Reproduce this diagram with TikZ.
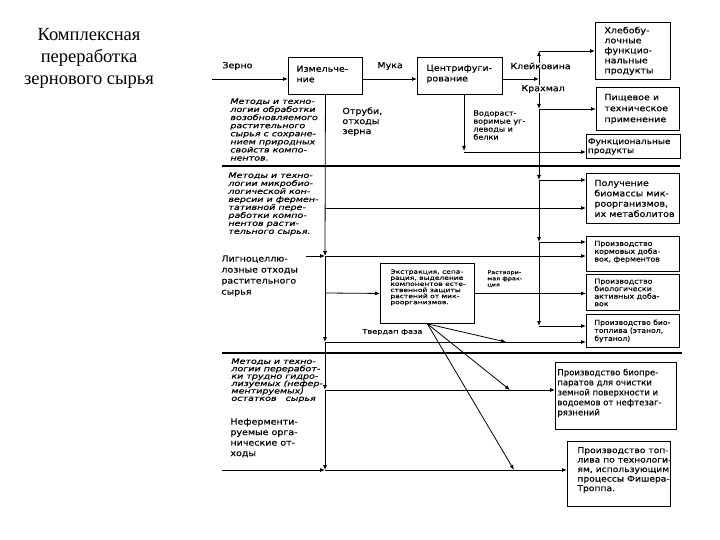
\documentclass[tikz,border=0pt]{standalone}
\usepackage{fontspec}
\setmainfont{Liberation Serif}
\newfontfamily\dv[FakeStretch=1.12,FakeBold=0.25]{DejaVu Sans}
\newfontfamily\dvn[FakeBold=0.25]{DejaVu Sans}
\newfontfamily\dvw[FakeStretch=1.3,FakeBold=0.25]{DejaVu Sans}
\newfontfamily\dvi[FakeStretch=1.27,FakeBold=0.35]{DejaVu Sans}
\usetikzlibrary{arrows.meta}
\newcommand\fsz[2]{\fontsize{#1}{#2}\selectfont}
\begin{document}
\begin{tikzpicture}[x=1pt,y=-1pt,line width=0.8pt,
  arr/.style={-{Latex[length=5pt,width=4pt]}},
  box/.style={draw,line width=0.9pt,anchor=north west,inner sep=0pt},
  txt/.style={anchor=west,align=left,inner sep=0pt},
  ttl/.style={anchor=north west,align=left,inner sep=0pt},
  sepline/.style={line width=1.1pt}]
\useasboundingbox (0,0) rectangle (720,540);

% title
\node[align=center,inner sep=0pt,font=\fsz{18.5}{22}] (title) at (89,58)
  {Комплексная\\переработка\\зернового сырья};

% coordinates
\coordinate (zs) at (212,79);
\coordinate (j1) at (539,79);
\coordinate (t0) at (539,51);
\coordinate (t1) at (539,109);
\coordinate (t2) at (539,180);
\coordinate (t3) at (539,242);
\coordinate (t4) at (539,326);
\coordinate (c1) at (464,152);
\coordinate (b1) at (325,208);
\coordinate (v1) at (325,256);
\coordinate (b2) at (325,293);
\coordinate (v2) at (325,342);
\coordinate (v3) at (325,390);
\coordinate (v4) at (325,470);
\coordinate (lg) at (306,256);
\coordinate (nf) at (222,470);
\coordinate (f1) at (506,342);
\coordinate (f2) at (510,390);
\coordinate (f3) at (514,470);
\coordinate (s1a) at (222,166);
\coordinate (s1b) at (680,166);
\coordinate (s2a) at (222,353);
\coordinate (s2b) at (682,353);

% boxes
\node[box,minimum width=74pt,minimum height=37pt] (izm) at (288,57) {};
\node[box,minimum width=85pt,minimum height=37pt] (centr) at (417,57) {};
\node[box,minimum width=75pt,minimum height=57pt] (hleb) at (595,22) {};
\node[box,minimum width=83pt,minimum height=43pt] (pish) at (596,87) {};
\node[box,minimum width=94pt,minimum height=24pt] (func) at (586,134) {};
\node[box,minimum width=93pt,minimum height=50pt] (poluch) at (586,173) {};
\node[box,minimum width=93pt,minimum height=35pt] (korm) at (586,236) {};
\node[box,minimum width=93pt,minimum height=36pt] (bio) at (586,274) {};
\node[box,minimum width=93pt,minimum height=33pt] (biotop) at (586,314) {};
\node[box,minimum width=94pt,minimum height=60pt] (extr) at (380,263) {};
\node[box,minimum width=121pt,minimum height=67pt] (biopr) at (555,362) {};
\node[box,minimum width=103pt,minimum height=65pt] (topl) at (567,441) {};

% separators
\draw[sepline] (s1a) -- (s1b);
\draw[sepline] (s2a) -- (s2b);

% top row
\draw[arr] (zs) -- (zs -| izm.west);
\draw[arr] (zs -| izm.east) -- (zs -| centr.west);
\draw[arr] (zs -| centr.east) -- (j1);

% trunk 539
\draw[arr] (j1) -- (t0);
\draw[arr] (j1) -- (t1);
\draw[arr] (t1) -- (t2);
\draw[arr] (t2) -- (t3);
\draw[arr] (t3) -- (t4);
\draw[arr] (t0) -- (t0 -| hleb.west);
\draw[arr] (t1) -- (t1 -| pish.west);
\draw[arr] (t2) -- (t2 -| poluch.west);
\draw[arr] (t3) -- (t3 -| korm.west);
\draw[arr] (t4) -- (t4 -| biotop.west);

% centrifuge down
\draw[arr] (centr.south -| c1) -- ([yshift=1pt]c1);
\draw[arr] (c1) -- (c1 -| func.west);

% trunk 325
\draw[arr] (izm.south) -- (v1);
\draw[arr] (v1) -- (v2);
\draw[arr] (v2) -- (v3);
\draw[arr] (v3) -- (v4);
\draw[arr] (lg) -- (v1);
\draw[arr] (nf) -- (v4);
\draw[arr] (b1) -- (b1 -| poluch.west);
\draw[arr] (v1) -- (v1 -| korm.west);
\draw[arr] (b2) -- (extr.west);
\draw[arr] (extr.east) -- (extr.east -| bio.west);
\draw[arr] (v2) -- (v2 -| biotop.west);
\draw[arr] (v3) -- (v3 -| biopr.west);
\draw[arr] (v4) -- (v4 -| topl.west);

% fan from extraction
\draw[arr] (extr.south) -- (f1);
\draw[arr] (extr.south) -- (f2);
\draw[arr] (extr.south) -- (f3);

% box texts
\node[txt,font=\dv\fsz{8.5}{10.5}] (izmT) at ([xshift=8pt,yshift=2pt]izm.west) {Измельче-\\ние};
\node[txt,font=\dv\fsz{8.5}{10.5}] (centrT) at ([xshift=9pt,yshift=2pt]centr.west) {Центрифуги-\\рование};
\node[txt,font=\dv\fsz{8.5}{10}] (hlebT) at ([xshift=9pt]hleb.west) {Хлебобу-\\лочные\\функцио-\\нальные\\продукты};
\node[txt,font=\dv\fsz{8.5}{11}] (pishT) at ([xshift=8pt]pish.west) {Пищевое и\\техническое\\применение};
\node[txt,font=\dv\fsz{8}{9}] (funcT) at ([xshift=1.5pt]func.west) {Функциональные\\продукты};
\node[txt,font=\dv\fsz{8.5}{10.3}] (poluchT) at ([xshift=8pt]poluch.west) {Получение\\биомассы мик-\\роорганизмов,\\их метаболитов};
\node[txt,font=\dv\fsz{7}{7.8}] (kormT) at ([xshift=8pt,yshift=2pt]korm.west) {Производство\\кормовых доба-\\вок, ферментов};
\node[txt,font=\dv\fsz{7}{7.5}] (bioT) at ([xshift=8pt]bio.west) {Производство\\биологически\\активных доба-\\вок};
\node[txt,font=\dv\fsz{6.8}{8}] (biotopT) at ([xshift=8pt]biotop.west) {Производство био-\\топлива (этанол,\\бутанол)};
\node[ttl,font=\dvw\fsz{5.8}{6.1}] (extrT) at ([xshift=10pt,yshift=-6pt]extr.north west) {Экстракция, сепа-\\рация, выделение\\компонентов есте-\\ственной защиты\\растений от мик-\\роорганизмов.};
\node[txt,font=\dvn\fsz{8.5}{10}] (bioprT) at ([xshift=2pt,yshift=3pt]biopr.west) {Производство биопре-\\паратов для очистки\\земной поверхности и\\водоемов от нефтезаг-\\рязнений};
\node[txt,font=\dv\fsz{8.2}{9.5}] (toplT) at ([xshift=10pt,yshift=4pt]topl.west) {Производство топ-\\лива по технологи-\\ям, использующим\\процессы Фишера-\\Троппа.};

% free labels
\node[txt,font=\dv\fsz{8.5}{10}] (zerno) at (222,66) {Зерно};
\node[txt,font=\dv\fsz{8.5}{10}] (muka) at (377,66) {Мука};
\node[txt,font=\dv\fsz{8.5}{10},fill=white] (klei) at (510,66) {Клейковина};
\node[txt,font=\dv\fsz{8.5}{10},fill=white] (krahm) at (521,89) {Крахмал};
\node[ttl,font=\dv\fsz{8.5}{10}] (otrubi) at (342,107) {Отруби,\\отходы\\зерна};
\node[ttl,font=\dv\fsz{7.2}{8}] (vodor) at (473,110) {Водораст-\\воримые уг-\\леводы и\\белки};
\node[ttl,font=\dvi\itshape\fsz{7.5}{8.1}] (m1) at (230,98) {Методы и техно-\\логии обработки\\возобновляемого\\растительного\\сырья с сохране-\\нием природных\\свойств компо-\\нентов.};
\node[ttl,font=\dvi\itshape\fsz{7.5}{8}] (m2) at (228,172) {Методы и техно-\\логии микробио-\\логической кон-\\версии и фермен-\\тативной пере-\\работки компо-\\нентов расти-\\тельного сырья.};
\node[ttl,font=\dvi\itshape\fsz{7.5}{7.4}] (m3) at (231,358) {Методы и техно-\\логии переработ-\\ки трудно гидро-\\лизуемых (нефер-\\ментируемых)\\остатков\hspace{6pt} сырья};
\node[ttl,font=\dv\fsz{8.5}{11}] (lign) at (221,255) {Лигноцеллю-\\лозные отходы\\растительного\\сырья};
\node[ttl,font=\dv\fsz{8.5}{10.5}] (neferm) at (230,418) {Неферменти-\\руемые орга-\\нические от-\\ходы};
\node[ttl,font=\dvw\fsz{5}{6.2}] (rastv) at (487,270) {Раствори-\\мая фрак-\\ция};
\node[txt,font=\dvw\fsz{6.3}{7}] (tverd) at (362,332) {Твердап фаза};
\end{tikzpicture}
\end{document}
